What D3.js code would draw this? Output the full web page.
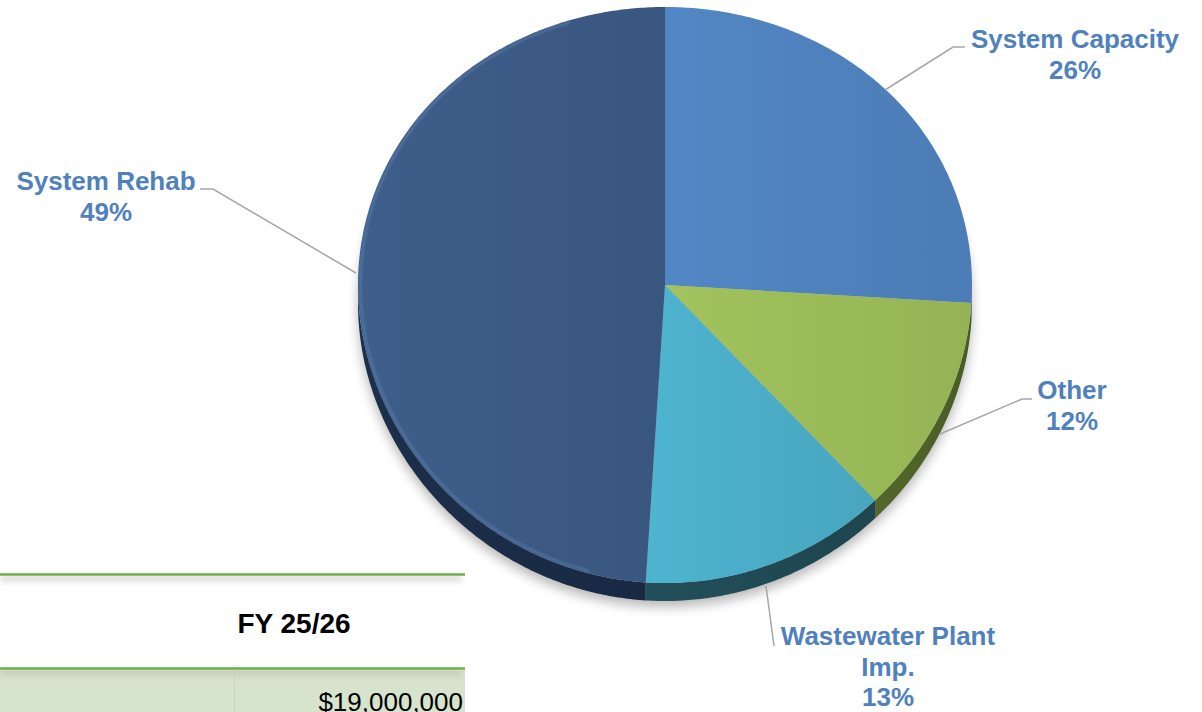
<!DOCTYPE html>
<html><head><meta charset="utf-8">
<script src="https://cdn.jsdelivr.net/npm/d3@7"></script>
<style>html,body{margin:0;padding:0;background:#fff;}svg{display:block;}</style>
</head><body>
<script>
const categories = ["System Capacity", "Other", "Wastewater Plant Imp.", "System Rehab"];
const values = [26, 12, 13, 49];
const labelLines = [["System Capacity", "26%"], ["Other", "12%"], ["Wastewater Plant", "Imp.", "13%"], ["System Rehab", "49%"]];
const topColors = ["#4f81bd", "#9bbb59", "#4bacc6", "#3b5a85"];
const sideColors = ["#2b466b", "#4c5e27", "#1f4853", "#1a2b45"];
const tableHeader = ["FY 25/26"];
const tableValues = ["$19,000,000"];

const W = 1202, H = 712;
const svg = d3.select("body").append("svg").attr("width", W).attr("height", H);
const defs = svg.append("defs");

// projection of unit circle onto screen
const xs = d3.scaleLinear().domain([-1, 1]).range([358, 972]);
const ys = d3.scaleLinear().domain([-1, 1]).range([-3, 573]);
const bulge = 10, depth = 18;
function P(a, r, dz) {
  const u = r * Math.sin(a), v = -r * Math.cos(a);
  return [xs(u), ys(v) + bulge * v * v + (dz || 0)];
}
function arcPts(a0, a1, dz, r) {
  const n = Math.max(2, Math.ceil(Math.abs(a1 - a0) / 0.01));
  return d3.range(n + 1).map(i => P(a0 + (a1 - a0) * i / n, r == null ? 1 : r, dz));
}
const line = d3.line();

// ---- table fragment ----
const tbl = svg.append("g");
const sh = defs.append("filter").attr("id", "tshadow").attr("x", "-5%").attr("y", "-200%").attr("width", "110%").attr("height", "500%");
sh.append("feGaussianBlur").attr("stdDeviation", 3);
tbl.append("rect").attr("x", 0).attr("y", 576).attr("width", 462).attr("height", 5).attr("fill", "#000").attr("opacity", 0.18).attr("filter", "url(#tshadow)");
tbl.append("rect").attr("x", 0).attr("y", 670).attr("width", 465).attr("height", 42).attr("fill", "#d7e4cd");
tbl.append("rect").attr("x", 0).attr("y", 670).attr("width", 462).attr("height", 5).attr("fill", "#000").attr("opacity", 0.12).attr("filter", "url(#tshadow)");
tbl.append("line").attr("x1", 0).attr("x2", 465).attr("y1", 574.5).attr("y2", 574.5).attr("stroke", "#70ad47").attr("stroke-width", 2.5);
tbl.append("line").attr("x1", 0).attr("x2", 465).attr("y1", 668.5).attr("y2", 668.5).attr("stroke", "#70ad47").attr("stroke-width", 2.5);
tbl.append("line").attr("x1", 234.5).attr("x2", 234.5).attr("y1", 670).attr("y2", 712).attr("stroke", "#c4d6b6").attr("stroke-width", 1);
tbl.append("text").attr("x", 294).attr("y", 633).attr("text-anchor", "middle")
  .attr("font-family", "Liberation Sans, Arial, sans-serif").attr("font-weight", "bold").attr("font-size", 28).attr("fill", "#000").text(tableHeader[0]);
tbl.append("text").attr("x", 463).attr("y", 711).attr("text-anchor", "end")
  .attr("font-family", "Liberation Sans, Arial, sans-serif").attr("font-size", 26).attr("fill", "#000").text(tableValues[0]);

// ---- pie ----
const pie = d3.pie().sort(null).value(d => d)(values);

// shadow
const shf = defs.append("filter").attr("id", "pshadow").attr("x", "-20%").attr("y", "-20%").attr("width", "140%").attr("height", "140%");
shf.append("feGaussianBlur").attr("stdDeviation", 6);
svg.append("path")
  .attr("d", line(arcPts(0, 2 * Math.PI, depth + 6)) + "Z")
  .attr("fill", "#000").attr("opacity", 0.28).attr("filter", "url(#pshadow)");

// gradients
pie.forEach((d, i) => {
  const g = defs.append("linearGradient").attr("id", "g" + i).attr("x1", "0").attr("x2", "1").attr("y1", "0").attr("y2", "0");
  const c = d3.color(topColors[i]);
  g.append("stop").attr("offset", "0%").attr("stop-color", c.brighter(0.12));
  g.append("stop").attr("offset", "100%").attr("stop-color", c.darker(0.12));
  const s = defs.append("linearGradient").attr("id", "s" + i).attr("x1", "0").attr("x2", "1").attr("y1", "0").attr("y2", "0");
  const sc = d3.color(sideColors[i]);
  s.append("stop").attr("offset", "0%").attr("stop-color", sc.brighter(0.25));
  s.append("stop").attr("offset", "100%").attr("stop-color", sc.darker(0.1));
});

// sides (visible front half: angles PI/2 .. 3PI/2)
const sideG = svg.append("g");
pie.forEach((d, i) => {
  const a0 = Math.max(d.startAngle, Math.PI / 2), a1 = Math.min(d.endAngle, 3 * Math.PI / 2);
  if (a1 <= a0) return;
  const topE = arcPts(a0, a1, 0), botE = arcPts(a1, a0, depth);
  sideG.append("path").attr("d", line(topE.concat(botE)) + "Z").attr("fill", "url(#s" + i + ")");
});

// tops
const topG = svg.append("g");
const cen = P(0, 0, 0);
pie.forEach((d, i) => {
  const pts = [cen].concat(arcPts(d.startAngle, d.endAngle, 0));
  topG.append("path").attr("d", line(pts) + "Z").attr("fill", "url(#g" + i + ")");
});
// rim bevel highlight on the left side of the large slice
const rimF = defs.append("filter").attr("id", "rimblur");
rimF.append("feGaussianBlur").attr("stdDeviation", 0.8);
topG.append("path").attr("d", line(arcPts(Math.PI * 1.08, Math.PI * 1.9, 0, 0.992)))
  .attr("fill", "none").attr("stroke", "#7a9ccc").attr("stroke-width", 1.6).attr("opacity", 0.5).attr("filter", "url(#rimblur)");

// ---- labels & leader lines ----
const labelPos = [
  { x: 1075, y: 48, anchor: "middle", lead: [[885, 90], [953, 47], [965, 47]] },
  { x: 1072, y: 399, anchor: "middle", lead: [[940, 434], [1022, 399], [1032, 399]] },
  { x: 888, y: 645, anchor: "middle", lead: [[766, 586], [774, 646]] },
  { x: 106, y: 190, anchor: "middle", lead: [[356, 273], [213, 189], [200, 189]] }
];
const lab = svg.append("g");
categories.forEach((c, i) => {
  const p = labelPos[i];
  lab.append("path").attr("d", line(p.lead)).attr("fill", "none").attr("stroke", "#a6a6a6").attr("stroke-width", 1.5);
  const t = lab.append("text").attr("text-anchor", p.anchor)
    .attr("font-family", "Liberation Sans, Arial, sans-serif").attr("font-weight", "bold").attr("font-size", 26).attr("fill", "#4f81bd");
  labelLines[i].forEach((ln, k) => {
    t.append("tspan").attr("x", p.x).attr("y", p.y + k * 30.5).text(ln);
  });
});
</script>
</body></html>
